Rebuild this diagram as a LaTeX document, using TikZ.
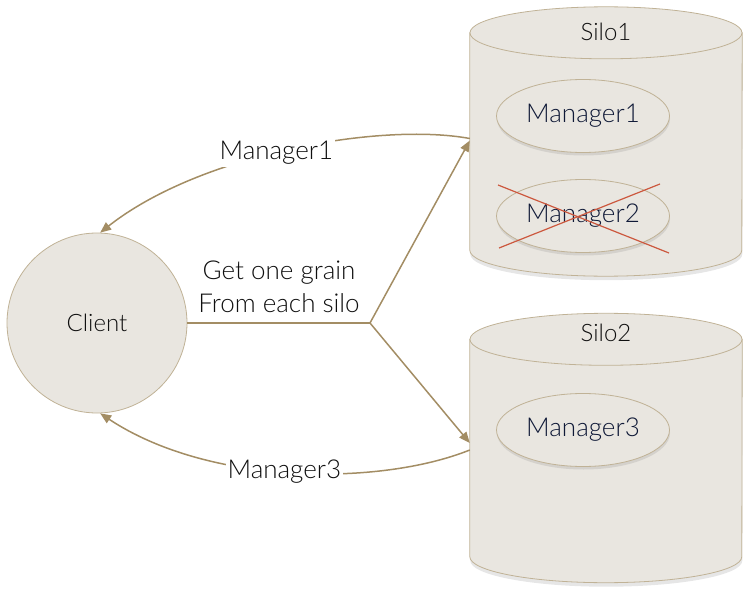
\documentclass[tikz,border=0pt]{standalone}
\usepackage{fontspec}
\IfFontExistsTF{Lato Light}{\setmainfont{Lato Light}}{\setmainfont{Lato}}
\usetikzlibrary{shapes.geometric,arrows.meta,shadows}
\definecolor{grainfill}{RGB}{233,230,224}
\definecolor{grainline}{RGB}{192,178,150}
\definecolor{linkcol}{RGB}{163,141,100}
\definecolor{crosscol}{RGB}{204,88,62}
\definecolor{mgrtext}{RGB}{15,25,55}
\definecolor{labtext}{RGB}{15,15,15}
\tikzset{
  silobox/.style={rectangle, draw=none, minimum width=272pt, minimum height=217pt, inner sep=0pt},
  silobody/.style={fill=grainfill, draw=grainline, line width=0.8pt,
    drop shadow={opacity=0.2, shadow xshift=0.5pt, shadow yshift=-4pt}},
  silotop/.style={fill=grainfill, draw=grainline, line width=0.8pt},
  grain/.style={ellipse, draw=grainline, fill=grainfill, line width=0.8pt,
    minimum width=173pt, minimum height=73pt, text=mgrtext, font=\fontsize{26}{30}\selectfont,
    drop shadow={opacity=0.2, shadow xshift=0.5pt, shadow yshift=-3pt}},
  client/.style={circle, draw=grainline, fill=grainfill, line width=0.8pt, minimum size=180pt},
  link/.style={draw=linkcol, line width=1.5pt, -{Triangle[length=11pt,width=9pt]}},
  linklabel/.style={fill=white, inner sep=2pt, text=labtext, font=\fontsize{26}{30}\selectfont}
}
\begin{document}
\begin{tikzpicture}[x=1pt, y=-1pt, font=\fontsize{24}{33}\selectfont, text=labtext]
\useasboundingbox (0,0) rectangle (753,602);

\node[silobox] (silo1) at (606,141.5) {};
\node[silobox] (silo2) at (606,448) {};
\foreach \s in {silo1,silo2}{
  \path[silobody] (\s.north west) -- (\s.south west)
    arc[start angle=180, end angle=360, x radius=136pt, y radius=26pt]
    -- (\s.north east) -- cycle;
  \draw[silotop] (\s.north) ellipse[x radius=136pt, y radius=26pt];
}
\node (silo1lab) at (606,32) {Silo1};
\node (silo2lab) at (606,333) {Silo2};

\node[grain] (mgr1) at (583,116) {Manager1};
\node[grain] (mgr2) at (583,216) {Manager2};
\node[grain] (mgr3) at (583,430) {Manager3};

\draw[crosscol, line width=1.2pt] (498,185) -- (669,253);
\draw[crosscol, line width=1.2pt] (499,248) -- (660,184);

\node[client] (client) at (97,323) {Client};
\node[align=center, font=\fontsize{26}{33}\selectfont] (getlab) at (279,287) {Get one grain\\From each silo};

\coordinate (split) at (370,323);
\draw[linkcol, line width=1.5pt] (client.east) -- (split);
\draw[link] (split) -- ([yshift=1pt]silo1.west);
\draw[link] (split) -- ([yshift=5pt]silo2.west);

\draw[link] ([yshift=3pt]silo1.west) .. controls (380,122) and (200,154) .. (client.88)
  node[pos=.53, linklabel] (m1lab) {Manager1};
\draw[link] ([yshift=-2pt]silo2.west) .. controls (380,486) and (210,486) .. (client.272)
  node[pos=.52, linklabel] (m3lab) {Manager3};
\end{tikzpicture}
\end{document}
